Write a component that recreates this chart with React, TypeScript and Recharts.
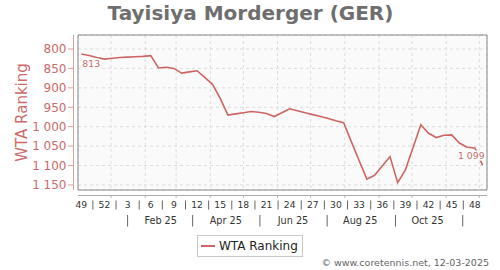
import React from 'react';
import { LineChart, Line, XAxis, YAxis, CartesianGrid, ReferenceArea, Legend, LabelList } from 'recharts';

const FONT = '"DejaVu Sans", sans-serif';
const RED = '#cd6565';
const RED_TEXT = '#cc6a6a';
const RED_AXIS = '#dba0a0';

// ISO week numbers, Dec 2024 -> Dec 2025
const weeks = [49, 50, 51, 52, 1, 2, 3, 4, 5, 6, 7, 8, 9, 10, 11, 12, 13, 14, 15, 16, 17, 18, 19, 20, 21, 22, 23, 24, 25, 26, 27, 28, 29, 30, 31, 32, 33, 34, 35, 36, 37, 38, 39, 40, 41, 42, 43, 44, 45, 46, 47, 48, 49];
// WTA ranking per week
const ranking = [813, 817, 822, 826, 824, 822, 821, 820, 819, 817, 849, 847, 850, 862, 859, 856, 873, 891, 927, 970, 967, 964, 961, 963, 966, 974, 964, 954, 959, 964, 969, 974, 979, 985, 990, 1039, 1087, 1135, 1125, 1101, 1077, 1144, 1111, 1053, 995, 1017, 1028, 1022, 1021, 1042, 1053, 1055, 1099];

const weekTickLabels = [49, 52, 3, 6, 9, 12, 15, 18, 21, 24, 27, 30, 33, 36, 39, 42, 45, 48];
const monthLabels = ['Feb 25', 'Apr 25', 'Jun 25', 'Aug 25', 'Oct 25'];
const monthLabelDates = ['2025-02-15', '2025-04-15', '2025-06-15', '2025-08-15', '2025-10-15'];
const monthSeparatorDates = ['2025-01-16', '2025-03-16', '2025-05-16', '2025-07-16', '2025-09-16', '2025-11-16'];
const monthGridDates = ['2025-01-01', '2025-02-01', '2025-03-01', '2025-04-01', '2025-05-01', '2025-06-01', '2025-07-01', '2025-08-01', '2025-09-01', '2025-10-01', '2025-11-01', '2025-12-01'];
const yTicks = [800, 850, 900, 950, 1000, 1050, 1100, 1150];

const ORIGIN = Date.parse('2024-12-05');
const dayOf = (s: string) => (Date.parse(s) - ORIGIN) / 86400000;

const data = weeks.map((w, i) => ({ day: 7 * i, week: w, rank: ranking[i] }));
const weekTickDays = weekTickLabels.map((w) => 7 * weeks.indexOf(w));
const weekSepDays = weekTickDays.slice(0, -1).map((d, i) => (d + weekTickDays[i + 1]) / 2);
const monthLabelDays = monthLabelDates.map(dayOf);
const monthSepDays = monthSeparatorDates.map(dayOf);
const gridDays = monthGridDates.map(dayOf);

const X_DOMAIN: [number, number] = [-3, 368];
const Y_DOMAIN: [number, number] = [764, 1163];

const fmt = (v: number) => {
  const s = String(v);
  return s.length > 3 ? s.slice(0, s.length - 3) + ' ' + s.slice(-3) : s;
};

const weekLabelByDay = new Map(weekTickDays.map((d, i) => [d, weekTickLabels[i]]));
const monthLabelByDay = new Map(monthLabelDays.map((d, i) => [d, monthLabels[i]]));

const WeekTick = (p: any) => (
  <text x={p.x} y={208.4} textAnchor="middle" fontFamily={FONT} fontSize={9.2} fill="#333">
    {weekLabelByDay.get(p.payload.value)}
  </text>
);
const WeekSepTick = (p: any) => (
  <line x1={p.x} x2={p.x} y1={200.5} y2={209.5} stroke="#666" strokeWidth={1} />
);
const MonthTick = (p: any) => (
  <text x={p.x} y={224} textAnchor="middle" fontFamily={FONT} fontSize={9.7} fill="#333">
    {monthLabelByDay.get(p.payload.value)}
  </text>
);
const MonthSepTick = (p: any) => (
  <line x1={p.x} x2={p.x} y1={215} y2={226.5} stroke="#666" strokeWidth={1} />
);
const GridTick = (p: any) => (
  <line x1={p.x} x2={p.x} y1={195} y2={198} stroke="#bbb" strokeWidth={1} />
);
const YTick = (p: any) => (
  <g>
    <line x1={68} x2={73} y1={p.y} y2={p.y} stroke={RED_AXIS} strokeWidth={1} />
    <text x={66.5} y={p.y + 4.3} textAnchor="end" fontFamily={FONT} fontSize={12} fill={RED_TEXT}>
      {fmt(p.payload.value)}
    </text>
  </g>
);

const EndLabel = (p: any) => {
  const last = ranking.length - 1;
  if (p.index === 0) {
    return (
      <text x={p.x + 1} y={p.y + 12.6} textAnchor="start" fontFamily={FONT} fontSize={9.3} fill={RED_TEXT}
        stroke="#fff" strokeWidth={3} paintOrder="stroke" strokeLinejoin="round">
        {fmt(p.value)}
      </text>
    );
  }
  if (p.index === last) {
    return (
      <text x={p.x + 2} y={p.y - 6} textAnchor="end" fontFamily={FONT} fontSize={9.3} fill={RED_TEXT}
        stroke="#fff" strokeWidth={3} paintOrder="stroke" strokeLinejoin="round">
        {fmt(p.value)}
      </text>
    );
  }
  return null;
};

const LegendBox = () => (
  <svg width={106} height={22} style={{ display: 'block' }}>
    <rect x={0.5} y={0.5} width={105} height={21} fill="#fff" stroke="#c8c8c8" />
    <line x1={4} x2={18} y1={11} y2={11} stroke={RED} strokeWidth={2} />
    <text x={22} y={15.3} fontFamily={FONT} fontSize={12} fill="#222">WTA Ranking</text>
  </svg>
);

const common = {
  dataKey: 'day',
  type: 'number' as const,
  domain: X_DOMAIN,
  allowDataOverflow: true,
  axisLine: false,
  tickLine: false,
  interval: 0 as const,
  height: 10,
};

export default function App() {
  return (
    <div style={{ position: 'absolute', left: 0, top: 0, width: 500, height: 270, background: '#fff' }}>
      <LineChart width={500} height={270} data={data} margin={{ top: 35, right: 13, left: 0, bottom: 30 }}>
        <CartesianGrid fill="#fafafa" stroke="#dcdcdc" strokeDasharray="3 3" />
        <XAxis {...common} ticks={gridDays} tick={GridTick} />
        <XAxis xAxisId="weeks" {...common} ticks={weekTickDays} tick={WeekTick} />
        <XAxis xAxisId="wsep" {...common} ticks={weekSepDays} tick={WeekSepTick} />
        <XAxis xAxisId="months" {...common} ticks={monthLabelDays} tick={MonthTick} />
        <XAxis xAxisId="msep" {...common} ticks={monthSepDays} tick={MonthSepTick} />
        <YAxis
          type="number"
          reversed
          domain={Y_DOMAIN}
          allowDataOverflow
          ticks={yTicks}
          interval={0}
          width={78}
          axisLine={false}
          tickLine={false}
          tick={YTick}
        />
        <ReferenceArea x1={X_DOMAIN[0]} x2={X_DOMAIN[1]} y1={Y_DOMAIN[0]} y2={Y_DOMAIN[1]} fill="none" stroke="#888" strokeWidth={1} ifOverflow="visible" />
        <Line
          type="linear"
          dataKey="rank"
          stroke={RED}
          strokeWidth={1.6}
          dot={false}
          activeDot={false}
          isAnimationActive={false}
          name="WTA Ranking"
        >
          <LabelList dataKey="rank" content={EndLabel} />
        </Line>
        <Legend
          layout="horizontal"
          verticalAlign="middle"
          align="center"
          wrapperStyle={{ left: 197, top: 235, width: 106, height: 22 }}
          content={LegendBox}
        />
      </LineChart>
      <svg width={500} height={270} style={{ position: 'absolute', left: 0, top: 0, pointerEvents: 'none' }}>
        <text x={250.5} y={19.5} textAnchor="middle" fontFamily={FONT} fontSize={20} fontWeight="bold" fill="#6e6e6e">
          Tayisiya Morderger (GER)
        </text>
        <text transform="translate(26.5,112.5) rotate(-90)" textAnchor="middle" fontFamily={FONT} fontSize={15} fill={RED_TEXT}>
          WTA Ranking
        </text>
        <line x1={73.5} x2={73.5} y1={35} y2={190} stroke={RED_AXIS} strokeWidth={1} />
        <line x1={78} x2={487} y1={195.5} y2={195.5} stroke="#aaa" strokeWidth={1} />
        <text x={489} y={266} textAnchor="end" fontFamily={FONT} fontSize={9.5} fill="#666">
          © www.coretennis.net, 12-03-2025
        </text>
      </svg>
    </div>
  );
}
